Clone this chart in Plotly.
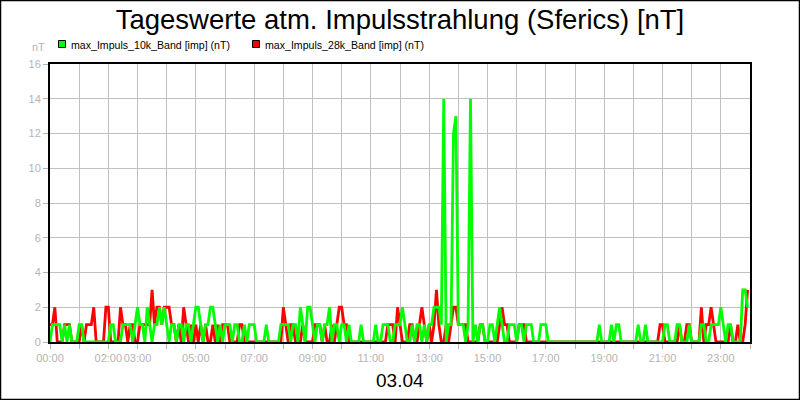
import plotly.graph_objects as go

# 5-minute values per hour (12 per row), hours 00..23
band_10k = [
    0,1,1,1,1,0,1,0,1,0,0,0,   # 00
    1,1,0,0,0,0,0,0,0,0,0,0,   # 01
    0,1,1,0,0,0,1,1,1,1,0,1,   # 02
    2,1,1,0,2,1,0,1,1,2,1,2,   # 03
    1,0,1,1,0,1,1,0,1,1,0,1,   # 04
    2,2,1,0,1,1,2,2,1,0,1,0,   # 05
    1,1,1,0,1,1,0,0,1,0,1,1,   # 06
    1,0,0,0,0,1,0,0,0,0,0,1,   # 07
    1,1,1,0,1,1,0,2,1,0,2,2,   # 08
    1,0,1,1,0,1,1,2,0,1,1,0,   # 09
    1,1,0,1,0,0,0,0,1,0,0,0,   # 10
    0,0,1,0,0,1,1,1,0,0,1,1,   # 11
    1,2,1,0,0,1,0,1,1,0,1,0,   # 12
    1,1,2,2,2,1,14,0,1,1,12,13,  # 13
    1,1,1,0,1,14,0,1,0,1,1,0,  # 14
    0,1,1,0,1,2,1,0,0,1,1,1,   # 15
    0,1,1,0,1,1,1,0,0,0,1,1,   # 16
    1,0,0,0,0,0,0,0,0,0,0,0,   # 17
    0,0,0,0,0,0,0,0,0,0,1,0,   # 18
    0,0,0,1,0,1,1,0,0,0,0,0,   # 19
    0,0,1,0,0,1,0,0,0,0,0,0,   # 20
    0,1,1,0,0,0,1,1,0,0,0,1,   # 21
    0,0,0,0,1,1,0,0,1,1,1,1,   # 22
    2,1,0,1,1,0,0,0,0,3,3,2,   # 23
]
band_28k = [
    1,1,2,0,0,0,1,1,1,0,0,0,   # 00
    0,1,0,1,1,1,2,0,0,0,0,2,   # 01
    2,0,0,0,0,2,1,1,0,1,1,0,   # 02
    0,1,1,1,1,1,3,1,2,2,1,2,   # 03
    2,2,1,1,0,1,0,2,1,0,1,0,   # 04
    1,0,1,0,1,0,0,1,0,1,0,1,   # 05
    1,1,0,0,0,0,1,1,0,0,0,0,   # 06
    0,0,0,0,0,0,0,0,0,0,0,0,   # 07
    2,1,0,1,1,0,0,0,1,0,0,0,   # 08
    0,1,1,1,0,1,0,0,1,0,1,2,   # 09
    2,1,1,0,0,0,0,0,0,0,0,0,   # 10
    0,0,0,0,0,0,0,1,1,1,0,2,   # 11
    1,0,0,0,1,1,0,0,1,2,1,0,   # 12
    1,0,1,3,1,0,0,1,0,1,2,2,   # 13
    1,1,1,1,0,0,0,0,0,1,1,0,   # 14
    0,0,0,0,0,1,2,1,1,0,0,0,   # 15
    0,1,1,1,0,0,0,0,0,0,0,0,   # 16
    0,0,0,0,0,0,0,0,0,0,0,0,   # 17
    0,0,0,0,0,0,0,0,0,0,0,0,   # 18
    0,0,0,0,0,0,0,0,0,0,0,0,   # 19
    0,0,0,0,0,0,0,0,0,0,0,1,   # 20
    1,0,0,0,0,0,0,1,0,0,1,1,   # 21
    0,0,0,0,2,0,1,1,2,1,0,0,   # 22
    0,0,0,0,1,0,0,1,0,0,1,3,   # 23
]
hours = [i * 5 / 60 for i in range(len(band_10k))]

series_names = ["max_Impuls_10k_Band [imp] (nT)", "max_Impuls_28k_Band [imp] (nT)"]

tick_hours = list(range(25))
tick_labels = ["00:00", "", "02:00", "03:00", "", "05:00", "", "07:00", "", "09:00",
               "", "11:00", "", "13:00", "", "15:00", "", "17:00", "", "19:00",
               "", "21:00", "", "23:00", ""]

GREEN = "#00ff00"
RED = "#ff0000"
GRAY = "#b4b4b4"
FONT = "Liberation Sans, Arial, sans-serif"

W, H = 800, 400
L, R, T, B = 50, 50, 64, 58
pw, ph = W - L - R, H - T - B


def px_x(x):
    return (x - L) / pw


def px_y(y):
    return (H - B - y) / ph


fig = go.Figure()
fig.add_trace(go.Scatter(x=hours, y=band_28k, mode="lines", line=dict(color=RED, width=2.8),
                         name=series_names[1], showlegend=False))
fig.add_trace(go.Scatter(x=hours, y=band_10k, mode="lines", line=dict(color=GREEN, width=2.8),
                         name=series_names[0], showlegend=False))

# legend drawn as squares + text
legend_items = [(58.5, GREEN, series_names[0]), (252.5, RED, series_names[1])]
shapes = []
annotations = []
for lx, col, name in legend_items:
    shapes.append(dict(type="rect", xref="paper", yref="paper",
                       x0=px_x(lx), x1=px_x(lx + 7), y0=px_y(47.5), y1=px_y(40.5),
                       line=dict(color="black", width=1), fillcolor=col, layer="above"))
    annotations.append(dict(text=name, xref="paper", yref="paper", x=px_x(lx + 10.5), y=px_y(44.5),
                            xanchor="left", yanchor="middle", showarrow=False,
                            font=dict(size=10.6, color="black", family=FONT)))

annotations += [
    dict(text="03.04", xref="paper", yref="paper", x=0.5, y=px_y(380),
         xanchor="center", yanchor="middle", showarrow=False,
         font=dict(size=19, color="black", family=FONT)),
    dict(text="nT", xref="paper", yref="paper", x=px_x(47), y=px_y(47),
         xanchor="right", yanchor="middle", showarrow=False,
         font=dict(size=11, color=GRAY, family=FONT)),
]
shapes.append(dict(type="rect", xref="paper", yref="paper",
                   x0=px_x(0.5), x1=px_x(W - 0.5), y0=px_y(H - 0.5), y1=px_y(0.5),
                   line=dict(color="black", width=1.5), fillcolor="rgba(0,0,0,0)", layer="above"))

fig.update_layout(
    width=W, height=H,
    margin=dict(l=L, r=R, t=T, b=B),
    paper_bgcolor="white", plot_bgcolor="white",
    font=dict(family=FONT, color="black"),
    showlegend=False,
    title=dict(text="Tageswerte atm. Impulsstrahlung (Sferics) [nT]", x=0.5, xanchor="center",
               y=1 - 19 / H, yanchor="middle", yref="container",
               font=dict(size=27.5, color="black", family=FONT)),
    xaxis=dict(range=[0, 24], tickmode="array", tickvals=tick_hours, ticktext=tick_labels,
               tickangle=0,
               showgrid=True, gridcolor="#c0c0c0", gridwidth=1,
               ticks="outside", ticklen=5, tickcolor=GRAY, tickwidth=1,
               tickfont=dict(size=11, color=GRAY, family=FONT),
               showline=True, linecolor="black", linewidth=2, mirror=True,
               zeroline=False, fixedrange=True),
    yaxis=dict(range=[0, 16], dtick=2, tick0=0,
               showgrid=True, gridcolor="#c0c0c0", gridwidth=1,
               ticks="outside", ticklen=5, tickcolor=GRAY, tickwidth=1,
               tickfont=dict(size=11, color=GRAY, family=FONT),
               showline=True, linecolor="black", linewidth=2, mirror=True,
               zeroline=False, fixedrange=True),
    annotations=annotations,
    shapes=shapes,
)

fig.write_html("out.html", config={"displayModeBar": False},
               post_script="document.body.style.margin='0px';")
